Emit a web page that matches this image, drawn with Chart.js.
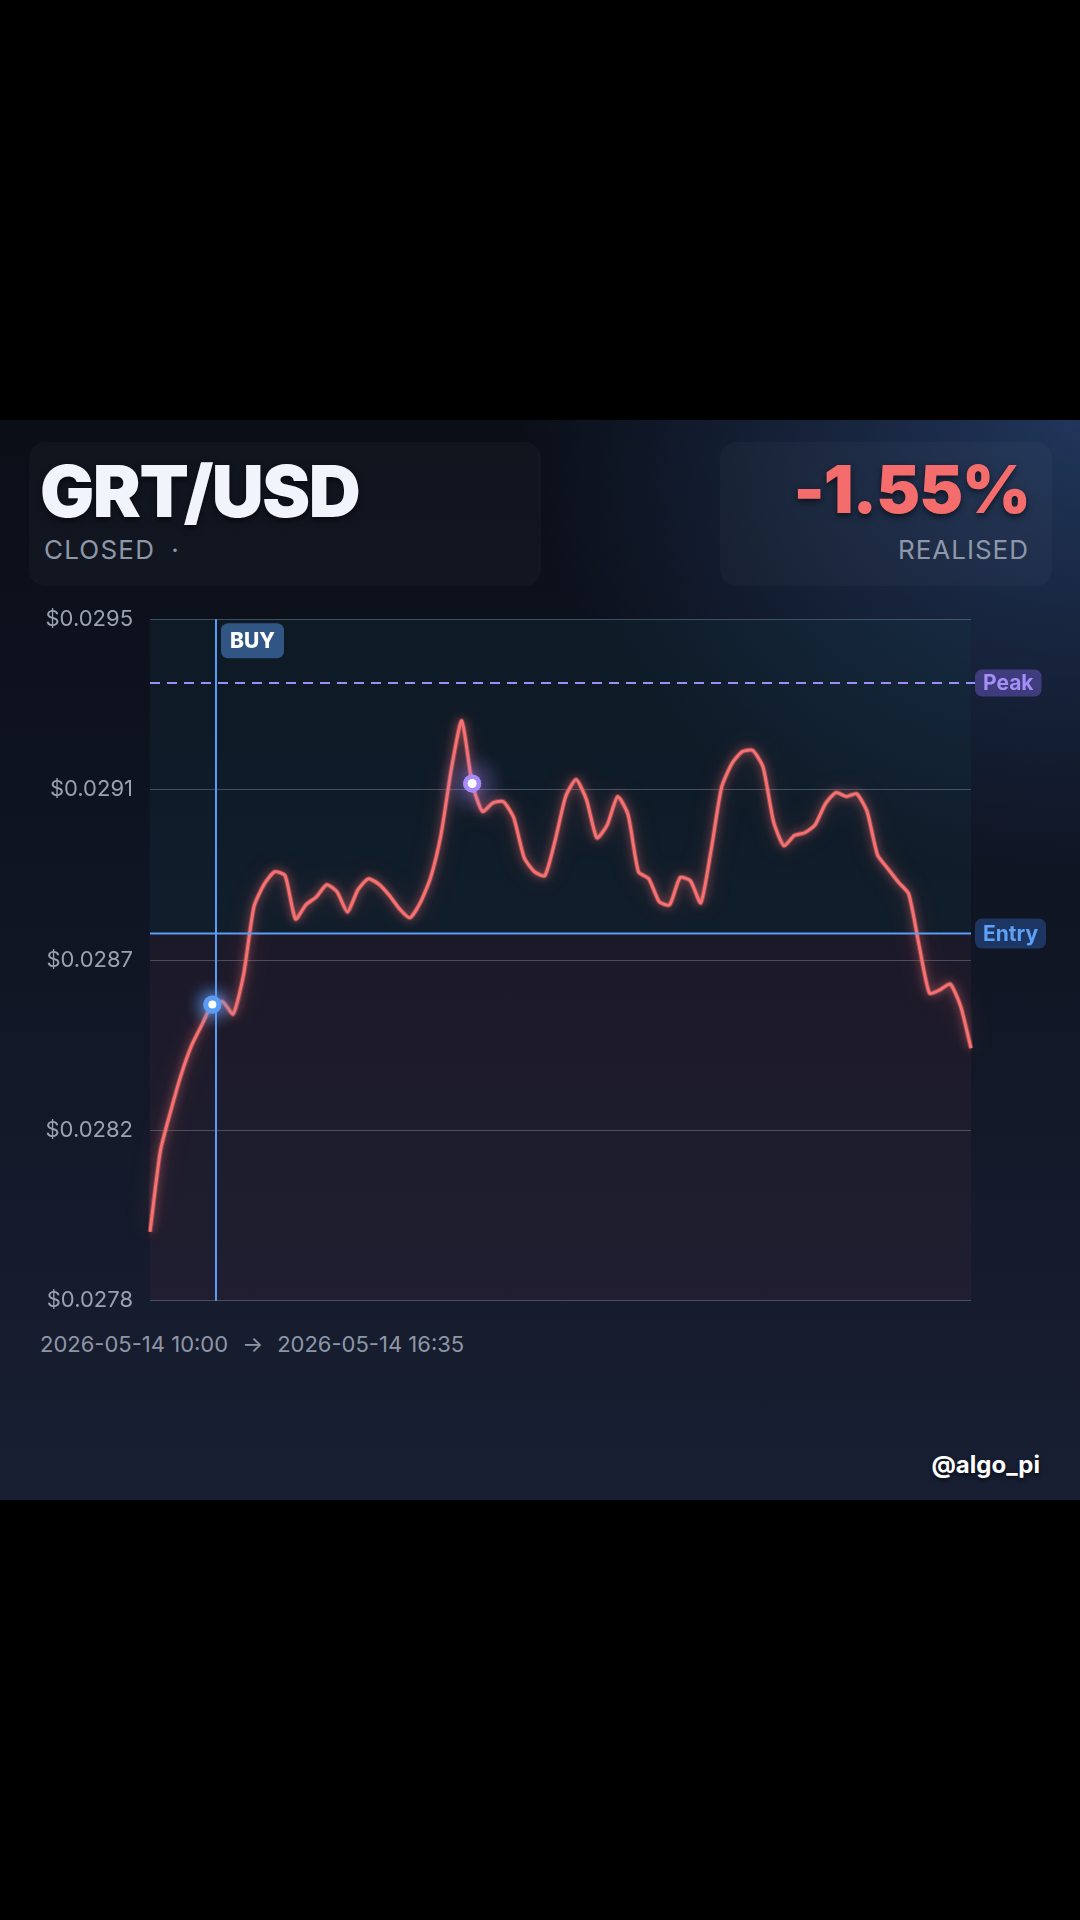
<!DOCTYPE html>
<html><head><meta charset="utf-8">
<script src="https://cdn.jsdelivr.net/npm/chart.js@4.4.1/dist/chart.umd.min.js"></script>
<style>
html,body{margin:0;padding:0;background:#000;width:1080px;height:1920px;overflow:hidden;font-family:Inter,'Noto Sans',sans-serif;}
#card{position:absolute;left:0;top:420px;width:1080px;height:1080px;overflow:hidden;
 background:radial-gradient(ellipse 560px 460px at 1080px 0px, rgba(50,86,145,0.55), rgba(50,86,145,0) 100%),
 linear-gradient(180deg,#0a0e17 0%,#0f1422 40%,#151b2c 75%,#181f32 100%);}
.box{position:absolute;border-radius:16px;background:rgba(255,255,255,0.028);}
.t{position:absolute;white-space:nowrap;line-height:1;}
#title{left:40px;top:35px;font-size:72px;font-weight:900;color:#f1f5fb;letter-spacing:-1.5px;text-shadow:0 3px 6px rgba(0,0,0,0.55);}
#status{left:44px;top:117px;font-size:26px;font-weight:400;color:#8e97a8;letter-spacing:1.2px;}
#pct{right:50px;top:36px;font-size:66px;font-weight:900;color:#f56c6c;letter-spacing:-1px;text-shadow:0 3px 6px rgba(0,0,0,0.55);}
#realised{right:51px;top:117px;font-size:26px;font-weight:400;color:#8e97a8;letter-spacing:1px;}
#dates{left:40px;top:913px;font-size:22px;color:#8e96a6;}
#handle{right:40px;top:1033px;font-size:24px;font-weight:700;color:#ffffff;text-shadow:0 2px 4px rgba(0,0,0,0.6);}
#cv{position:absolute;left:0;top:169px;width:1080px;height:742px;}
</style></head>
<body>
<div id="card">
  <div class="box" style="left:29px;top:22px;width:512px;height:144px;"></div>
  <div class="box" style="left:720px;top:22px;width:332px;height:144px;"></div>
  <div class="t" id="title">GRT/USD</div>
  <div class="t" id="status">CLOSED<span style="margin-left:16px">·</span></div>
  <div class="t" id="pct">-1.55%</div>
  <div class="t" id="realised">REALISED</div>
  <canvas id="cv" width="1080" height="742"></canvas>
  <div class="t" id="dates">2026-05-14 10:00<span style="margin:0 14px">→</span>2026-05-14 16:35</div>
  <div class="t" id="handle">@algo_pi</div>
</div>
<script>
const times = [
 '10:00','10:05','10:10','10:15','10:20','10:25','10:30','10:35','10:40','10:45','10:50','10:55',
 '11:00','11:05','11:10','11:15','11:20','11:25','11:30','11:35','11:40','11:45','11:50','11:55',
 '12:00','12:05','12:10','12:15','12:20','12:25','12:30','12:35','12:40','12:45','12:50','12:55',
 '13:00','13:05','13:10','13:15','13:20','13:25','13:30','13:35','13:40','13:45','13:50','13:55',
 '14:00','14:05','14:10','14:15','14:20','14:25','14:30','14:35','14:40','14:45','14:50','14:55',
 '15:00','15:05','15:10','15:15','15:20','15:25','15:30','15:35','15:40','15:45','15:50','15:55',
 '16:00','16:05','16:10','16:15','16:20','16:25','16:30','16:35'
];
const prices = [
 0.027965,0.028170,0.028272,0.028364,0.028438,0.028491,0.028542,0.028549,0.028518,0.028617,
 0.028790,0.028848,0.028879,0.028869,0.028759,0.028795,0.028815,0.028846,0.028828,0.028777,
 0.028833,0.028861,0.028848,0.028820,0.028785,0.028762,0.028800,0.028864,0.028973,0.029140,
 0.029262,0.029103,0.029032,0.029054,0.029057,0.029016,0.028915,0.028879,0.028869,0.028960,
 0.029070,0.029113,0.029062,0.028965,0.028998,0.029070,0.029024,0.028879,0.028861,0.028803,
 0.028795,0.028864,0.028856,0.028800,0.028935,0.029093,0.029154,0.029184,0.029187,0.029144,
 0.029006,0.028945,0.028971,0.028978,0.028998,0.029052,0.029080,0.029070,0.029077,0.029032,
 0.028922,0.028887,0.028853,0.028823,0.028693,0.028571,0.028579,0.028594,0.028538,0.028431
];
const tickLabels = ['$0.0278','$0.0282','$0.0287','$0.0291','$0.0295'];
const Y_MIN = 0.02779;
const Y_MAX = 0.02952;
const ENTRY_PRICE = 0.028722;
const PEAK_PRICE = 0.029358;
const BUY_INDEX = 6;
const BUY_LINE_POS = 6.35;
const PEAK_MARK_INDEX = 31;

function rr(ctx,x,y,w,h,r){ctx.beginPath();if(ctx.roundRect){ctx.roundRect(x,y,w,h,r);}else{ctx.rect(x,y,w,h);}}

function label(ctx,text,x,yc,h,bg,fg){
  ctx.save();
  ctx.font='700 21px Inter';
  const w=ctx.measureText(text).width+16;
  ctx.fillStyle=bg; rr(ctx,x,yc-h/2,w,h,7); ctx.fill();
  ctx.fillStyle=fg; ctx.textBaseline='middle'; ctx.textAlign='left';
  ctx.fillText(text,x+8,yc+1);
  ctx.restore();
}
function marker(ctx,x,y,outer,inner,color,glow,blur){
  ctx.save();
  ctx.shadowColor=glow; ctx.shadowBlur=blur;
  ctx.fillStyle=color; ctx.beginPath(); ctx.arc(x,y,outer,0,Math.PI*2); ctx.fill();
  ctx.fill();
  ctx.shadowBlur=0;
  ctx.fillStyle='#ffffff'; ctx.beginPath(); ctx.arc(x,y,inner,0,Math.PI*2); ctx.fill();
  ctx.restore();
}

const decor = {
  id:'decor',
  beforeDraw(chart){
    const {ctx,chartArea:a,scales:{y}}=chart;
    const ye=y.getPixelForValue(ENTRY_PRICE);
    ctx.save();
    ctx.fillStyle='rgba(20,60,70,0.22)'; ctx.fillRect(a.left,a.top,a.width,ye-a.top);
    ctx.fillStyle='rgba(70,40,60,0.22)'; ctx.fillRect(a.left,ye,a.width,a.bottom-ye);
    ctx.restore();
  },
  beforeDatasetDraw(chart,args){
    if(args.index===0){
      const c=chart.ctx;
      const meta=chart.getDatasetMeta(0);
      c.save();
      c.shadowColor='rgba(248,113,113,0.6)'; c.shadowBlur=24;
      meta.dataset.options.borderColor='rgba(248,113,113,0.38)';
      meta.dataset.options.borderWidth=5;
      meta.dataset.draw(c,chart.chartArea);
      meta.dataset.options.borderColor='#f87171';
      meta.dataset.options.borderWidth=3;
      c.restore();
      c.save(); c.shadowColor='rgba(248,113,113,0.8)'; c.shadowBlur=10;
    }
  },
  afterDatasetDraw(chart,args){ if(args.index===0) chart.ctx.restore(); },
  afterDatasetsDraw(chart){
    const {ctx,chartArea:a,scales:{x,y}}=chart;
    const yp=y.getPixelForValue(PEAK_PRICE);
    const ye=y.getPixelForValue(ENTRY_PRICE);
    const xb=x.getPixelForValue(BUY_LINE_POS);
    ctx.save();
    ctx.strokeStyle='#9d8df5'; ctx.lineWidth=2; ctx.setLineDash([10,7]);
    ctx.beginPath(); ctx.moveTo(a.left,yp); ctx.lineTo(a.right+4,yp); ctx.stroke();
    ctx.setLineDash([]);
    ctx.strokeStyle='#5b9cf5'; ctx.lineWidth=2;
    ctx.beginPath(); ctx.moveTo(a.left,ye); ctx.lineTo(a.right,ye); ctx.stroke();
    ctx.beginPath(); ctx.moveTo(xb,a.top); ctx.lineTo(xb,a.bottom); ctx.stroke();
    ctx.restore();
    label(ctx,'Peak',a.right+4,yp,27,'rgba(124,102,230,0.40)','#a58ff7');
    label(ctx,'Entry',a.right+4,ye,30,'rgba(59,130,246,0.30)','#5ea2f7');
    ctx.save();
    ctx.font='800 21px Inter';
    const bw=ctx.measureText('BUY').width+18;
    ctx.fillStyle='rgba(74,126,196,0.6)'; rr(ctx,xb+5,a.top+4,bw,35,7); ctx.fill();
    ctx.fillStyle='#ffffff'; ctx.textBaseline='middle'; ctx.textAlign='left';
    ctx.fillText('BUY',xb+14,a.top+22.5);
    ctx.restore();
    const meta=chart.getDatasetMeta(0);
    const pb=meta.data[BUY_INDEX], pk=meta.data[PEAK_MARK_INDEX];
    marker(ctx,pb.x,pb.y,9,4,'#5b9cf5','rgba(91,156,245,1)',18);
    marker(ctx,pk.x,pk.y,9,4.5,'#a78bfa','rgba(167,139,250,1)',28);
  }
};

new Chart(document.getElementById('cv'),{
  type:'line',
  data:{labels:times,datasets:[{data:prices,borderColor:'#f87171',borderWidth:3,pointRadius:0,tension:0.2,fill:false}]},
  options:{
    responsive:false,animation:false,
    layout:{padding:{left:0,right:109,top:0,bottom:0}},
    plugins:{legend:{display:false},tooltip:{enabled:false}},
    scales:{
      x:{display:false},
      y:{min:Y_MIN,max:Y_MAX,
        afterBuildTicks(s){const st=(Y_MAX-Y_MIN)/(tickLabels.length-1);s.ticks=tickLabels.map((_,k)=>({value:Y_MIN+k*st}));},
        afterFit(s){s.width=150;},
        border:{display:false},
        grid:{color:'rgba(148,163,184,0.38)',lineWidth:1,drawTicks:false},
        ticks:{padding:17,color:'#9aa2b1',font:{family:'Inter',size:22},callback:(v,i)=>tickLabels[i]}
      }
    }
  },
  plugins:[decor]
});
</script>
</body></html>
